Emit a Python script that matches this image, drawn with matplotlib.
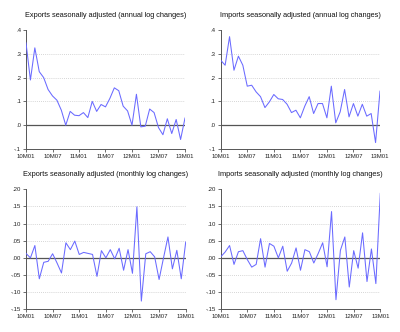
import numpy as np
import matplotlib.pyplot as plt
from matplotlib.ticker import FuncFormatter

plt.rcParams["font.family"] = ["Liberation Sans", "DejaVu Sans"]

# monthly observations 10M01 .. 13M01
months = np.arange(37)
xtick_pos = [0, 6, 12, 18, 24, 30, 36]
xtick_labels = ["10M01", "10M07", "11M01", "11M07", "12M01", "12M07", "13M01"]

exports_annual = [0.346, 0.19, 0.325, 0.225, 0.2, 0.15, 0.123, 0.105, 0.063, 0.0,
                  0.058, 0.042, 0.04, 0.053, 0.032, 0.1, 0.058, 0.087, 0.077, 0.113,
                  0.157, 0.145, 0.08, 0.06, 0.0, 0.13, -0.007, -0.004, 0.068, 0.053,
                  -0.01, -0.04, 0.027, -0.035, 0.024, -0.06, 0.03]
imports_annual = [0.273, 0.252, 0.372, 0.231, 0.29, 0.252, 0.164, 0.168, 0.14, 0.12,
                  0.074, 0.098, 0.129, 0.111, 0.108, 0.088, 0.053, 0.063, 0.031, 0.08,
                  0.12, 0.049, 0.091, 0.091, 0.031, 0.164, 0.01, 0.056, 0.15, 0.035,
                  0.091, 0.038, 0.088, 0.038, 0.049, -0.073, 0.143]
exports_monthly = [0.013, 0.0, 0.036, -0.061, -0.013, -0.01, 0.012, -0.015, -0.044, 0.044,
                   0.024, 0.049, 0.01, 0.016, 0.013, 0.01, -0.054, 0.021, 0.0, 0.024,
                   -0.003, 0.028, -0.036, 0.024, -0.045, 0.149, -0.126, 0.012, 0.018, 0.003,
                   -0.063, 0.0, 0.061, -0.032, 0.022, -0.061, 0.046]
imports_monthly = [0.003, 0.017, 0.036, -0.019, 0.018, 0.021, -0.005, -0.027, -0.019, 0.056,
                   -0.027, 0.042, 0.034, 0.0, 0.034, -0.039, -0.015, 0.029, -0.036, 0.024,
                   0.018, -0.015, 0.013, 0.044, -0.026, 0.135, -0.122, 0.022, 0.061, -0.085,
                   0.021, -0.03, 0.073, -0.069, 0.026, -0.075, 0.188]

annual_ticks = [-0.1, 0.0, 0.1, 0.2, 0.3, 0.4]
monthly_ticks = [-0.15, -0.10, -0.05, 0.0, 0.05, 0.10, 0.15, 0.20]

panels = [
    ("Exports seasonally adjusted (annual log changes)", exports_annual, annual_ticks, 1,
     [26, 30, 185, 149]),
    ("Imports seasonally adjusted (annual log changes)", imports_annual, annual_ticks, 1,
     [220.7, 30, 380, 149]),
    ("Exports seasonally adjusted (monthly log changes)", exports_monthly, monthly_ticks, 2,
     [26, 189.3, 185.7, 309.3]),
    ("Imports seasonally adjusted (monthly log changes)", imports_monthly, monthly_ticks, 2,
     [220.7, 189.3, 380.3, 309.3]),
]

W, H = 400, 332
fig = plt.figure(figsize=(W / 100, H / 100), dpi=100)


def eviews_fmt(decimals):
    def f(v, pos):
        s = f"{v:.{decimals}f}"
        if s.startswith("-0"):
            s = "-" + s[2:]
        elif s.startswith("0"):
            s = s[1:]
        return s
    return FuncFormatter(f)


for title, vals, yt, dec, (x0, y0, x1, y1) in panels:
    ax = fig.add_axes([x0 / W, 1 - y1 / H, (x1 - x0) / W, (y1 - y0) / H])
    ax.set_xlim(0, 36)
    ax.set_ylim(yt[0], yt[-1])
    for t in yt[1:-1]:
        if t != 0:
            ax.axhline(t, color="#c8c8c8", lw=0.6, ls=(0, (1, 1.5)), zorder=1)
    ax.axhline(0, color="#555555", lw=0.9, zorder=2)
    ax.plot(months, vals, color="#6a6aff", lw=0.75, zorder=3)
    for s in ["top", "right"]:
        ax.spines[s].set_visible(False)
    for s in ["left", "bottom"]:
        ax.spines[s].set_color("#555555")
        ax.spines[s].set_linewidth(0.7)
    ax.set_yticks(yt)
    ax.yaxis.set_major_formatter(eviews_fmt(dec))
    ax.set_xticks(xtick_pos)
    ax.set_xticklabels(xtick_labels)
    ax.tick_params(axis="both", labelsize=4.3, length=2, width=0.6, pad=1.5,
                   colors="#555555", labelcolor="#222222")
    ax.set_title(title, fontsize=5.3, pad=9.5, color="#111111")

fig.savefig("out.png", dpi=100)
